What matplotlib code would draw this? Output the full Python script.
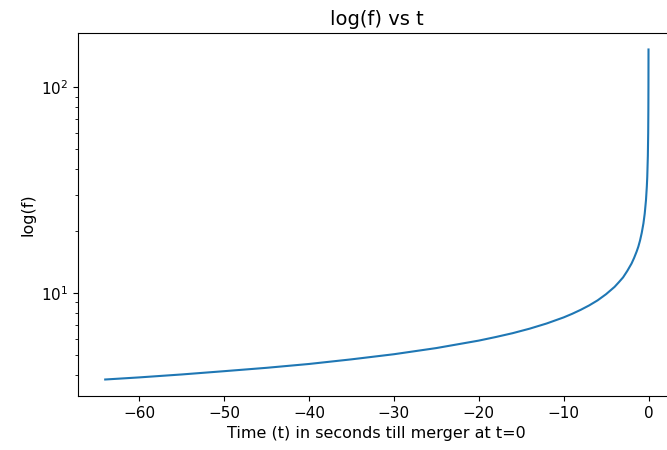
import numpy as np
import matplotlib
matplotlib.use('Agg')
import matplotlib.pyplot as plt

# tiempo antes de la fusion (s) y frecuencia (Hz)
t = [-64, -60, -55, -50, -45, -40, -35, -30, -25, -20, -18, -16, -14, -12,
     -10, -9, -8, -7, -6, -5, -4, -3.5, -3, -2.5, -2, -1.7, -1.4, -1.2, -1,
     -0.8, -0.6, -0.45, -0.3, -0.2, -0.15, -0.08, -0.04, -0.02, -0.01,
     -0.005, -0.003]
f = [3.79, 3.88, 4.01, 4.16, 4.32, 4.51, 4.75, 5.03, 5.39, 5.86, 6.10, 6.37,
     6.70, 7.10, 7.60, 7.91, 8.27, 8.69, 9.20, 9.86, 10.7, 11.27, 11.9,
     12.8, 13.9, 14.8, 15.9, 16.8, 18.0, 19.6, 21.8, 24.3, 28.3, 33.0, 36.7,
     46.5, 60.0, 78.0, 101.0, 131.0, 153.0]

fig = plt.figure(figsize=(6.67, 4.5), dpi=100)
ax = fig.add_axes([0.117, 0.12, 0.896, 0.8067])

ax.plot(t, f)
ax.set_yscale('log')

ax.set_title('log(f) vs t', fontsize=14)
ax.set_xlabel('Time (t) in seconds till merger at t=0', fontsize=11.5)
ax.set_ylabel('log(f)', fontsize=11.5)
ax.tick_params(labelsize=11)

# el borde derecho queda fuera de la imagen original
ax.spines['right'].set_visible(False)

fig.savefig('out.png', dpi=100)
